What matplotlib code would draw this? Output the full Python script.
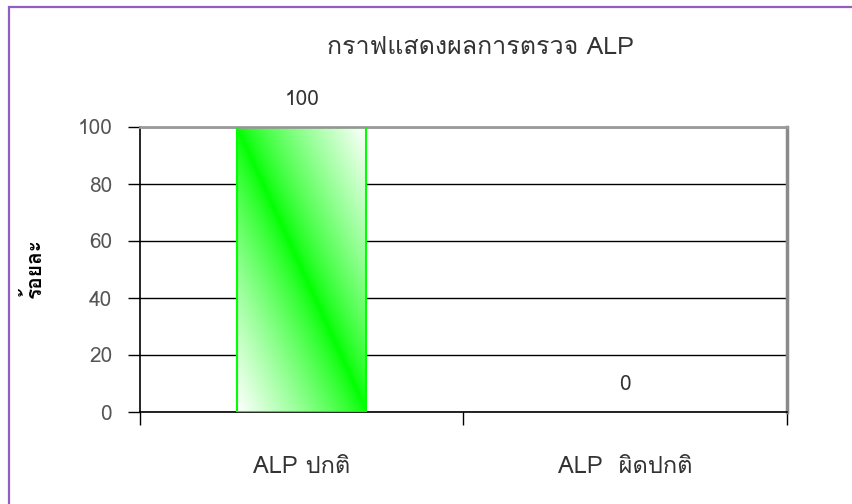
import numpy as np
import matplotlib
matplotlib.use('Agg')
import matplotlib.pyplot as plt
from matplotlib import font_manager
from matplotlib.ft2font import FT2Font
from matplotlib.patches import Rectangle

categories = ['ALP ปกติ', 'ALP  ผิดปกติ']
values = [100, 0]
yticks = [0, 20, 40, 60, 80, 100]
title = 'กราฟแสดงผลการตรวจ ALP'
ylabel = 'ร้อยละ'


def thai_font():
    # look for any installed font that has Thai glyphs
    for f in font_manager.fontManager.ttflist:
        try:
            if ord('ก') in FT2Font(f.fname).get_charmap():
                return f.name
        except Exception:
            pass
    return None


tf = thai_font()
fams = [tf, 'DejaVu Sans'] if tf else ['DejaVu Sans']
plt.rcParams['font.family'] = fams

fig = plt.figure(figsize=(8.53, 5.04), dpi=100)
ax = fig.add_axes([140 / 853, 1 - 412 / 504, 647 / 853, 285 / 504])

x = np.arange(len(categories))
bw = 0.4
ec = ['#00ff00' if v > 0 else 'none' for v in values]
bars = ax.bar(x, values, width=bw, color='none', edgecolor=ec, linewidth=1.5, zorder=3)

# diagonal gradient: green along top-left -> bottom-right diagonal, white at other corners
n = 200
u, v = np.meshgrid(np.linspace(0, 1, n), np.linspace(0, 1, n))
d = np.abs(u + v - 1) ** 0.8
img = np.dstack([d, np.ones_like(d), d])
for b in bars:
    if b.get_height() <= 0:
        continue
    x0, w, h = b.get_x(), b.get_width(), b.get_height()
    ax.imshow(img, extent=(x0, x0 + w, 0, h), origin='lower', aspect='auto', zorder=2,
              interpolation='bilinear')

ax.set_xlim(-0.5, len(categories) - 0.5)
ax.set_ylim(0, 100)
ax.set_yticks(yticks)
ax.yaxis.grid(True, color='black', linewidth=1, zorder=1)
ax.set_axisbelow(True)

ax.set_xticks(np.arange(len(categories) + 1) - 0.5)
ax.set_xticklabels([])
ax.set_xticks(x, minor=True)
ax.set_xticklabels(categories, minor=True, fontsize=17, color='#333333')
ax.tick_params(axis='x', which='major', direction='out', length=9, width=1, color='black')
ax.tick_params(axis='x', which='minor', length=0, pad=31)
ax.tick_params(axis='y', direction='out', length=9, width=1, pad=11, labelsize=15, labelcolor='#555555')

for s in ['left', 'bottom']:
    ax.spines[s].set_color('black')
    ax.spines[s].set_linewidth(1.2)
ax.spines['top'].set_color('#9a9a9a')
ax.spines['top'].set_linewidth(2)
ax.spines['right'].set_color('#8a8a8a')
ax.spines['right'].set_linewidth(2.5)

for xi, val in zip(x, values):
    ax.annotate(str(val), (xi, val), xytext=(0, 20), textcoords='offset points',
                ha='center', va='center', fontsize=15, color='#333333')

fig.text(480 / 853, 1 - 47 / 504, title, ha='center', va='center', fontsize=18, color='#333333')
fig.text(33 / 853, 1 - 268 / 504, ylabel, ha='center', va='center', rotation=90,
         fontsize=15, fontweight='bold', color='black')

fig.patches.append(Rectangle((8.5 / 853, -0.1), 1.2, 1 - 7.5 / 504 + 0.1, transform=fig.transFigure,
                             fill=False, edgecolor='#9060c0', linewidth=1.6, clip_on=False))

fig.savefig('out.png', dpi=100)
